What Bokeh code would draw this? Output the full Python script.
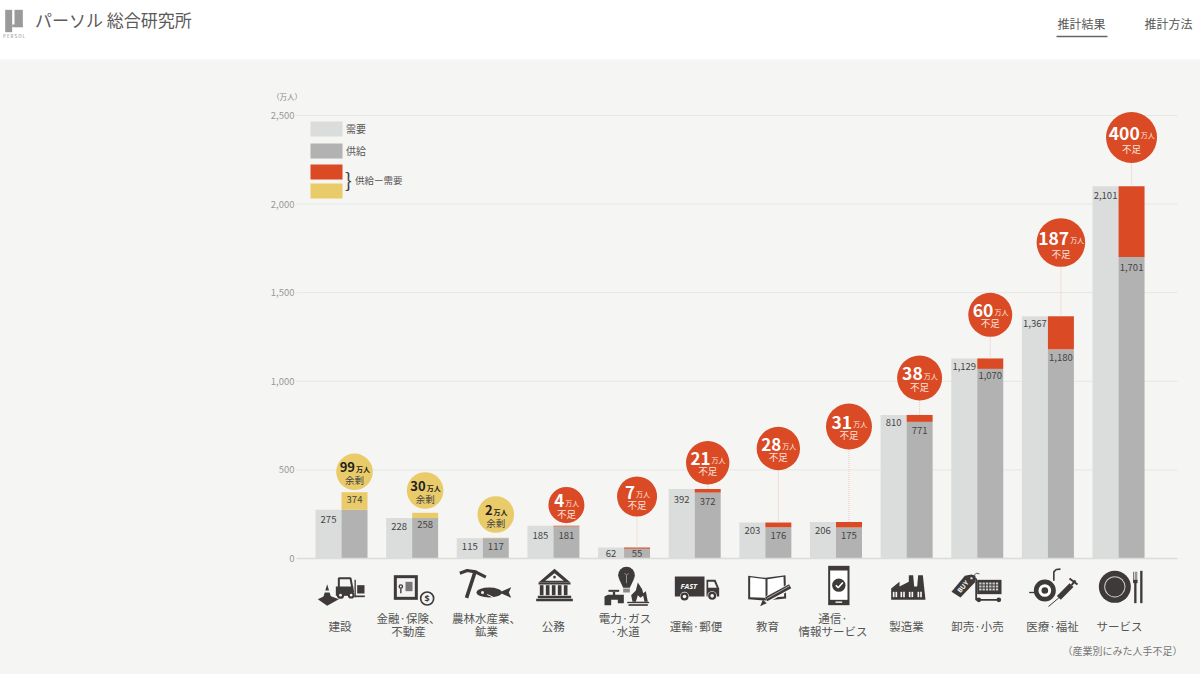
from bokeh.plotting import figure
from bokeh.models import (FixedTicker, LinearAxis, NumeralTickFormatter,
                          Legend, LegendItem, Range1d)
from bokeh.core.properties import value
from bokeh.embed import file_html
from bokeh.resources import INLINE

# ---------- data ----------
categories = ["建設", "金融·保険、\n不動産", "農林水産業、\n鉱業", "公務", "電力·ガス\n·水道", "運輸·郵便",
              "教育", "通信·\n情報サービス", "製造業", "卸売·小売", "医療·福祉", "サービス"]
demand = [275, 228, 115, 185, 62, 392, 203, 206, 810, 1129, 1367, 2101]
supply = [374, 258, 117, 181, 55, 372, 176, 175, 771, 1070, 1180, 1701]
gap_values = [99, 30, 2, 4, 7, 21, 28, 31, 38, 60, 187, 400]
gap_kinds = ["余剰", "余剰", "余剰", "不足", "不足", "不足", "不足", "不足", "不足", "不足", "不足", "不足"]
y_ticks = [0, 500, 1000, 1500, 2000, 2500]

# ---------- layout (page pixels) ----------
W, H = 1201, 675
CAT0, PITCH = 342.0, 70.64
ZERO, PX_PER = 559.0, 443.0 / 2500
bubble_cy = [472.3, 491, 515, 505.5, 497, 463.3, 449, 427, 378.5, 315.3, 243, 138]
bubble_r = [18.3, 18.3, 18.3, 18, 20, 21.7, 21.7, 23, 22.5, 22, 24.3, 25.5]
number_fs = [13, 13, 13, 17, 17, 17, 17, 17.5, 17.5, 17.5, 17.5, 17.5]
demand_dy = [10, 8.7, 8.4, 9.7, 5.7, 10, 8, 8.2, 7.8, 7.6, 7.5, 9.3]
supply_dy = [7.3, 11.4, 8.4, 8.7, 4.4, 9, 8, 7.7, 8.3, 7, 8.3, 10.4]
label_cx = [340.5, 409, 487, 553.7, 625.5, 696.5, 768, 833.6, 907, 978, 1053, 1120]

# ---------- colours ----------
BG, C_DEMAND, C_SUPPLY, C_RED, C_YEL = "#f5f5f3", "#dbdddc", "#b2b2b2", "#d94a25", "#e9cb6a"
GRID, INK, TXT = "#e6e6e4", "#3e3a39", "#555555"
FONT = "Noto Sans CJK JP"


def X(px):
    return (px - CAT0) / PITCH


def Y(py):
    return (ZERO - py) / PX_PER


p = figure(width=W, height=H, output_backend="svg", toolbar_location=None,
           x_range=Range1d(X(0), X(W)), y_range=Range1d(Y(H), Y(0)),
           x_axis_type=None, y_axis_type=None, min_border=0,
           background_fill_color=BG, border_fill_color=BG, outline_line_color=None)
p.grid.visible = False
p.styles = {"position": "absolute", "left": "-1px", "top": "-1px"}


def label(px, py, text, size, color=TXT, align="center", style="normal", angle=0, font=FONT):
    p.text(x=[X(px)], y=[Y(py)], text=[text], text_font=value(font), text_font_size=f"{size}px",
           text_color=color, text_align=align, text_baseline="middle", text_font_style=style,
           angle=angle)


# header band
p.quad(left=[X(0)], right=[X(W)], bottom=[Y(60)], top=[Y(0)], fill_color="white", line_color=None)

# gridlines and axes
p.segment(x0=[X(297)] * 5, x1=[X(1178)] * 5, y0=y_ticks[1:], y1=y_ticks[1:], line_color=GRID, line_width=1)
yaxis = LinearAxis(ticker=FixedTicker(ticks=y_ticks), formatter=NumeralTickFormatter(format="0,0"),
                   axis_line_color=None, major_tick_line_color=None, minor_tick_line_color=None,
                   major_tick_out=0, major_tick_in=0,
                   major_label_standoff=2, major_label_text_font=FONT,
                   major_label_text_font_size="9.5px", major_label_text_color="#999999")
yaxis.fixed_location = X(297)
p.add_layout(yaxis, "left")
xaxis = LinearAxis(ticker=FixedTicker(ticks=[]), axis_line_color="#dcdcda", axis_line_width=1.6,
                   major_tick_line_color=None, minor_tick_line_color=None, bounds=(X(297), X(1178)),
                   major_label_text_color=None)
xaxis.fixed_location = 0
p.add_layout(xaxis, "below")

# bars
BAR = 26.0 / PITCH
idx = list(range(len(categories)))
r_demand = p.vbar(x=[i - BAR / 2 for i in idx], width=BAR, bottom=0, top=demand, fill_color=C_DEMAND, line_color=None)
r_supply = p.vbar(x=[i + BAR / 2 for i in idx], width=BAR, bottom=0,
                  top=[min(d, s) for d, s in zip(demand, supply)], fill_color=C_SUPPLY, line_color=None)
short = [i for i in idx if demand[i] > supply[i]]
over = [i for i in idx if demand[i] < supply[i]]
r_red = p.vbar(x=[i + BAR / 2 for i in short], width=BAR, bottom=[supply[i] for i in short],
               top=[demand[i] for i in short], fill_color=C_RED, line_color=None)
r_yel = p.vbar(x=[i + BAR / 2 for i in over], width=BAR, bottom=[demand[i] for i in over],
               top=[supply[i] for i in over], fill_color=C_YEL, line_color=None)

# value labels on the bars
for i in idx:
    for val, bx, dy in ((demand[i], i - BAR / 2, demand_dy[i]), (supply[i], i + BAR / 2, supply_dy[i])):
        p.text(x=[bx], y=[val], text=[f"{val:,}"], text_font=value(FONT), text_font_size="9.5px", text_color="#444444",
               text_align="center", text_baseline="middle", y_offset=dy)

# stems and bubbles
p.segment(x0=[i + BAR / 2 for i in short], x1=[i + BAR / 2 for i in short], y0=[demand[i] for i in short],
          y1=[Y(bubble_cy[i]) for i in short], line_color="#f0c6ba", line_width=1, line_dash="1 1")
p.scatter(x=[i + BAR / 2 for i in idx], y=[Y(c) for c in bubble_cy], size=[2 * r for r in bubble_r],
          marker="circle", fill_color=[C_RED if k == "不足" else C_YEL for k in gap_kinds], line_color=None)
for i in idx:
    cx = CAT0 + PITCH * i + 13
    cy, r, fs = bubble_cy[i], bubble_r[i], number_fs[i]
    red = gap_kinds[i] == "不足"
    c_num = "white" if red else "#231f20"
    digits = str(gap_values[i])
    w = len(digits) * fs * 0.58
    anchor = cx - (w + 14) / 2 + w
    label(anchor, cy - 4.5, digits, fs, c_num, "right", "bold")
    label(anchor + 1, cy - 2.5, "万人", 7, "#fbe6df" if red else "#231f20", "left", "normal" if red else "bold")
    label(cx, cy + (11 if r > 24 else 8.5), gap_kinds[i], 9.5, "#fbe6df" if red else "#444444")

# category labels
for cxp, name in zip(label_cx, categories):
    rows = name.split("\n")
    if len(rows) == 1:
        label(cxp, 626, rows[0], 11.5, "#555555")
    else:
        label(cxp, 618.3, rows[0], 11.5, "#555555")
        label(cxp, 631.8, rows[1], 11.5, "#555555")

label(1183, 651, "（産業別にみた人手不足）", 10, "#777777", "right")
label(287.5, 96.7, "（万人）", 7.5, "#888888")

# legend (Bokeh insets the swatch of a bar by 10 % on every side)
leg1 = Legend(items=[LegendItem(label="需要", renderers=[r_demand]), LegendItem(label="供給", renderers=[r_supply])],
              location=(307, H - 161), background_fill_alpha=0, border_line_color=None, padding=0, margin=0,
              glyph_width=40, glyph_height=19, label_height=19, spacing=3, label_standoff=0,
              label_text_font=FONT, label_text_font_size="10px", label_text_color=TXT)
leg2 = Legend(items=[LegendItem(label=value(""), renderers=[r_red]), LegendItem(label=value(""), renderers=[r_yel])],
              location=(307, H - 201), background_fill_alpha=0, border_line_color=None, padding=0, margin=0,
              glyph_width=40, glyph_height=19, label_height=19, spacing=-1, label_standoff=0)
p.add_layout(leg1)
p.add_layout(leg2)
label(349, 179.5, "}", 20, "#444444")
label(355.5, 180, "供給ー需要", 9.5, TXT, "left")

# header content
label(35.5, 20, "パーソル 総合研究所", 17, "#5a5a5a", "left")
label(1082, 24, "推計結果", 12, "#555555")
label(1169, 24, "推計方法", 12, "#555555")
p.segment(x0=[X(1057)], x1=[X(1108)], y0=[Y(37)], y1=[Y(37)], line_color="#666666", line_width=1.3)
label(14.5, 36.5, "P E R S O L", 4.5, "#888888")


# ---------- pictograms, drawn with primitives ----------
class Pic:
    def __init__(self, ox, oy, k=3.0):
        self.ox, self.oy, self.k = ox, oy, k

    def px(self, x):
        return X(self.ox + x / self.k)

    def py(self, y):
        return Y(self.oy + y / self.k)

    def poly(self, pts, color=INK):
        p.patch(x=[self.px(a) for a, _ in pts], y=[self.py(b) for _, b in pts], fill_color=color, line_color=None)

    def rect(self, x0, y0, x1, y1, color=INK):
        p.quad(left=[self.px(x0)], right=[self.px(x1)], top=[self.py(y0)], bottom=[self.py(y1)],
               fill_color=color, line_color=None)

    def oval(self, x, y, dx, dy=None, color=INK):
        dy = dx if dy is None else dy
        p.ellipse(x=[self.px(x)], y=[self.py(y)], width=[dx / self.k / PITCH], height=[dy / self.k / PX_PER],
                  fill_color=color, line_color=None)

    def line(self, pts, w, color=INK):
        p.line(x=[self.px(a) for a, _ in pts], y=[self.py(b) for _, b in pts], line_color=color, line_width=w)

    def text(self, x, y, s, size, color=BG, style="bold", angle=0):
        p.text(x=[self.px(x)], y=[self.py(y)], text=[s], text_font=value("Noto Sans"), text_font_size=f"{size}px",
               text_color=color, text_align="center", text_baseline="middle", text_font_style=style, angle=angle)


# logo
logo = Pic(1, 1)
logo.rect(14, 28, 35, 95, "#9a9a9a")
logo.rect(42, 28, 67, 80, "#9a9a9a")
logo.rect(35, 72, 67, 80, "#9a9a9a")

a = Pic(311, 563)
# construction
a.poly([(22, 110), (50, 97), (85, 110), (50, 130)])
a.poly([(50, 65), (38, 106), (62, 106)])
a.rect(40, 84, 60, 90, BG)
a.line([(85, 78), (85, 47), (120, 47), (128, 90)], 2)
a.rect(76, 72, 128, 100)
a.oval(90, 98, 22)
a.oval(90, 98, 8, color=BG)
a.oval(122, 98, 20)
a.oval(122, 98, 8, color=BG)
a.rect(132, 52, 136, 104)
a.rect(132, 99, 163, 104)
a.rect(140, 68, 162, 93)
# safe
a.rect(250, 38, 322, 112)
a.rect(259, 47, 313, 103, "#f2f2f2")
a.rect(285, 58, 306, 86, "#777777")
a.oval(271, 72, 14)
a.oval(271, 72, 6, color=BG)
a.rect(269, 78, 273, 92)
a.oval(350, 108, 50, color=BG)
a.oval(350, 108, 44)
a.oval(350, 108, 34, color=BG)
a.text(350, 108, "$", 9, INK)
# pick and fish
a.line([(448, 32), (470, 24), (495, 28), (526, 44)], 3.2)
a.line([(495, 24), (468, 106)], 3.6)
a.oval(536, 90, 76, 30)
a.poly([(566, 90), (602, 74), (595, 90), (602, 106)])
a.oval(516, 90, 9, color=BG)
a.line([(530, 96), (548, 104)], 1, BG)

b = Pic(531, 563)
# government building
b.poly([(72, 19), (24, 60), (120, 60)])
b.poly([(72, 32), (44, 55), (100, 55)], BG)
b.oval(72, 44, 8)
b.rect(24, 60, 120, 66)
for cx0 in (28, 46, 64, 82, 100):
    b.rect(cx0, 68, cx0 + 11, 98)
b.rect(22, 100, 122, 107)
b.rect(17, 109, 127, 116)
# bulb
b.oval(288, 38, 50)
b.poly([(266, 50), (310, 50), (298, 76), (278, 76)])
b.rect(278, 78, 298, 90, "#8a8a8a")
b.line([(288, 62), (288, 38), (282, 32)], 0.8, "#aaaaaa")
b.line([(288, 38), (294, 32)], 0.8, "#aaaaaa")
# faucet
b.rect(234, 82, 266, 88)
b.rect(247, 88, 254, 98)
b.poly([(222, 128), (222, 102), (232, 97), (280, 97), (280, 122), (262, 122), (262, 112), (242, 112), (242, 128)])
# flame
b.poly([(306, 118), (302, 98), (316, 84), (322, 60), (335, 80), (338, 92), (346, 86), (352, 118)])
b.poly([(316, 118), (322, 98), (330, 106), (338, 100), (342, 118)], BG)
b.rect(290, 118, 356, 122)
b.rect(294, 125, 352, 130)
# truck
b.rect(433, 42, 522, 102)
b.text(475, 71, "FAST", 7.5, BG, "bold italic")
b.poly([(528, 52), (555, 52), (566, 78), (566, 102), (528, 102)])
b.poly([(533, 58), (551, 58), (559, 76), (533, 76)], BG)
b.oval(462, 102, 28, color=BG)
b.oval(462, 102, 24)
b.oval(462, 102, 11, color=BG)
b.oval(545, 100, 28, color=BG)
b.oval(545, 100, 24)
b.oval(545, 100, 11, color=BG)

c = Pic(746, 563)
# book
c.poly([(8, 40), (60, 46), (120, 38), (122, 108), (60, 114), (8, 110)])
c.poly([(14, 44), (60, 50), (60, 106), (14, 104)], "#ffffff")
c.poly([(66, 50), (114, 43), (116, 102), (66, 106)], "#ffffff")
c.line([(62, 112), (134, 72)], 6.5, BG)
c.line([(62, 110), (134, 71)], 4.5)
c.line([(64, 108), (132, 70)], 0.6, BG)
c.poly([(44, 131), (52, 112), (64, 122)], INK)
# phone
c.rect(248, 10, 312, 128)
c.rect(254, 24, 306, 112, "#ffffff")
c.oval(280, 68, 40)
c.line([(271, 68), (278, 76), (292, 60)], 1.6, "#ffffff")
c.rect(270, 117, 290, 121, "#ffffff")
# factory
c.poly([(437, 112), (437, 78), (462, 58), (462, 72), (490, 58), (490, 38), (503, 38), (506, 72), (515, 72), (518, 38),
        (532, 38), (540, 112)])
for wx in (442, 450, 465, 473, 490, 498, 516, 524):
    c.rect(wx, 88, wx + 5, 104, BG)

d = Pic(946, 563)
# tag and cart
d.poly([(18, 88), (58, 40), (78, 36), (90, 40), (88, 60), (45, 105)])
d.oval(78, 47, 7, color=BG)
d.line([(78, 47), (92, 32), (102, 34)], 0.8)
d.text(52, 72, "BUY", 6.5, BG, "bold", 0.88)
d.rect(95, 52, 168, 95)
for gx in (101, 111, 121, 131, 141, 151):
    for gy in (60, 69, 78):
        d.rect(gx, gy, gx + 7, gy + 6, "#cfcfcf")
d.line([(84, 44), (92, 50), (92, 112), (165, 112)], 1.8)
d.oval(100, 112, 14)
d.oval(160, 112, 14)
# roll and syringe
d.oval(298, 84, 66)
d.oval(298, 84, 38, color="#ffffff")
d.oval(298, 84, 20)
d.rect(251, 88, 268, 92)
d.line([(325, 55), (325, 28), (332, 21), (345, 20)], 1.6)
d.line([(309, 132), (340, 106)], 1)
d.line([(340, 106), (378, 68)], 5.5)
d.line([(378, 68), (390, 54)], 2)
d.line([(372, 48), (396, 66)], 2)
# plate and cutlery
d.oval(508, 73, 96)
d.oval(508, 73, 64, color="#c9c9c9")
d.oval(508, 73, 58)
d.rect(566, 60, 573, 122)
for tx in (563, 568, 573):
    d.rect(tx, 28, tx + 2, 60)
d.rect(563, 52, 576, 62)
d.poly([(584, 25), (591, 25), (591, 122), (584, 122)])

open("out.html", "w").write(file_html(p, INLINE))
